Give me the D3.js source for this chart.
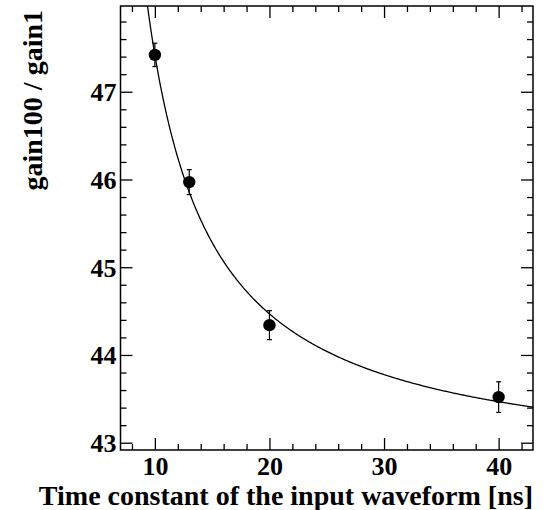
<!DOCTYPE html>
<html>
<head>
<meta charset="utf-8">
<script src="https://cdn.jsdelivr.net/npm/d3@7"></script>
<style>
  html, body { margin: 0; padding: 0; background: #fff; }
  svg { display: block; }
  text { font-family: "Liberation Serif", "Times New Roman", serif; font-weight: bold; fill: #000; }
</style>
</head>
<body>
<svg id="chart" width="552" height="510"></svg>
<script>
// Measured gain ratio vs. input time constant
const timeConstants = [10, 13, 20, 40];
const gainRatios = [47.42, 45.97, 44.34, 43.52];
const gainErrors = [0.133, 0.142, 0.165, 0.175];

// Fit model: p0 + p1 / (t - p2)
const fitParams = [42.66, 29.17, 3.87];

const xTickValues = [10, 20, 30, 40];
const yTickValues = [43, 44, 45, 46, 47];
const xTitle = "Time constant of the input waveform [ns]";
const yTitle = "gain100 / gain1";

(function draw() {
  const svg = d3.select("#chart");
  const frame = { left: 120.5, right: 533, top: 6, bottom: 450 };

  const x = d3.scaleLinear().domain([7, 43]).range([frame.left, frame.right]);
  const y = d3.scaleLinear().domain([42.917, 47.977]).range([frame.bottom, frame.top]);

  const majorLen = 12, minorLen = 6;
  const xMinor = d3.range(8, 43, 2).filter(v => !xTickValues.includes(v));
  const yMinor = d3.range(43, 48, 0.2).map(v => +v.toFixed(1))
    .filter(v => v <= 47.977 && !yTickValues.includes(v));

  const axes = svg.append("g");

  axes.append("g").attr("transform", `translate(0,${frame.bottom})`)
    .call(d3.axisBottom(x).tickValues(xTickValues).tickSize(-majorLen).tickPadding(7).tickFormat(d3.format("d")));
  axes.append("g").attr("transform", `translate(0,${frame.bottom})`)
    .call(d3.axisBottom(x).tickValues(xMinor).tickSize(-minorLen).tickFormat(""));
  axes.append("g").attr("transform", `translate(0,${frame.top})`)
    .call(d3.axisTop(x).tickValues(xTickValues).tickSize(-majorLen).tickFormat(""));
  axes.append("g").attr("transform", `translate(0,${frame.top})`)
    .call(d3.axisTop(x).tickValues(xMinor).tickSize(-minorLen).tickFormat(""));

  const leftAxis = axes.append("g").attr("transform", `translate(${frame.left},0)`)
    .call(d3.axisLeft(y).tickValues(yTickValues).tickSize(-majorLen).tickPadding(4).tickFormat(d3.format("d")));
  axes.append("g").attr("transform", `translate(${frame.left},0)`)
    .call(d3.axisLeft(y).tickValues(yMinor).tickSize(-minorLen).tickFormat(""));
  axes.append("g").attr("transform", `translate(${frame.right},0)`)
    .call(d3.axisRight(y).tickValues(yTickValues).tickSize(-majorLen).tickFormat(""));
  axes.append("g").attr("transform", `translate(${frame.right},0)`)
    .call(d3.axisRight(y).tickValues(yMinor).tickSize(-minorLen).tickFormat(""));

  axes.selectAll(".domain").remove();
  axes.selectAll(".tick line").attr("stroke", "#000").attr("stroke-width", 1.3);
  axes.selectAll(".tick text").style("font-family", "Liberation Serif, serif")
    .style("font-weight", "bold").style("font-size", "26px").attr("fill", "#000");
  leftAxis.selectAll(".tick text").attr("dy", "0.34em");

  // Frame
  svg.append("rect")
    .attr("x", frame.left).attr("y", frame.top)
    .attr("width", frame.right - frame.left).attr("height", frame.bottom - frame.top)
    .attr("fill", "none").attr("stroke", "#000").attr("stroke-width", 1.5);

  // Fit curve, clipped to the frame
  svg.append("clipPath").attr("id", "plotClip").append("rect")
    .attr("x", frame.left).attr("y", frame.top)
    .attr("width", frame.right - frame.left).attr("height", frame.bottom - frame.top);

  const fitFn = t => fitParams[0] + fitParams[1] / (t - fitParams[2]);
  const fitXs = d3.range(0, 401).map(i => 7 + i * (43 - 7) / 400);
  svg.append("path")
    .attr("clip-path", "url(#plotClip)")
    .datum(fitXs)
    .attr("fill", "none").attr("stroke", "#000").attr("stroke-width", 1.3)
    .attr("d", d3.line().x(d => x(d)).y(d => y(fitFn(d))));

  // Data points with error bars
  const pts = timeConstants.map((t, i) => ({ t, v: gainRatios[i], e: gainErrors[i] }));
  const pg = svg.append("g").selectAll("g").data(pts).join("g");
  pg.append("line")
    .attr("x1", d => x(d.t)).attr("x2", d => x(d.t))
    .attr("y1", d => y(d.v + d.e)).attr("y2", d => y(d.v - d.e))
    .attr("stroke", "#000").attr("stroke-width", 1.2);
  [1, -1].forEach(s => {
    pg.append("line")
      .attr("x1", d => x(d.t) - 2.5).attr("x2", d => x(d.t) + 2.5)
      .attr("y1", d => y(d.v + s * d.e)).attr("y2", d => y(d.v + s * d.e))
      .attr("stroke", "#000").attr("stroke-width", 1.2);
  });
  pg.append("circle")
    .attr("cx", d => x(d.t)).attr("cy", d => y(d.v)).attr("r", 6.2)
    .attr("fill", "#000");

  // Axis titles
  svg.append("text")
    .attr("x", frame.right).attr("y", 505)
    .attr("text-anchor", "end")
    .style("font-size", "28px")
    .text(xTitle);

  svg.append("text")
    .attr("transform", `translate(42,${frame.top + 4}) rotate(-90)`)
    .attr("text-anchor", "end")
    .style("font-size", "28px")
    .text(yTitle);
})();
</script>
</body>
</html>
